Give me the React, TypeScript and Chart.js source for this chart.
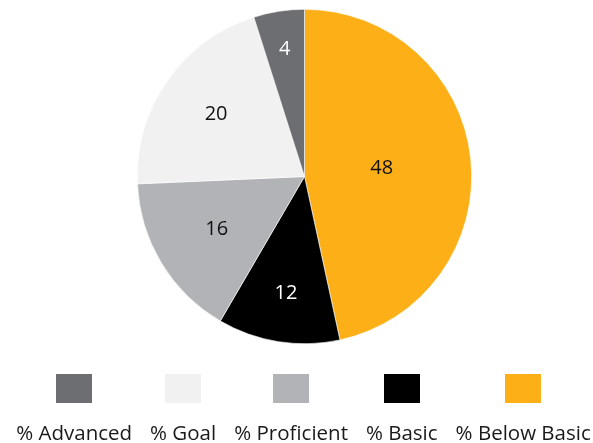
import React, { useEffect, useRef } from "react";
import { Chart, registerables } from "chart.js";

Chart.register(...registerables);

// Legend order
const categories = ["% Advanced", "% Goal", "% Proficient", "% Basic", "% Below Basic"];
// Slice sizes as drawn (percent)
const sliceValues = [4.9, 20.8, 15.9, 11.8, 46.6];
// Printed data labels
const labelValues = ["4", "20", "16", "12", "48"];
const colors = ["#6d6e71", "#f1f1f2", "#b1b3b6", "#000000", "#fcaf17"];
const labelColors = ["#ffffff", "#111111", "#111111", "#ffffff", "#111111"];
// radial position of each label (fraction of radius), legend order
const labelRadius = [0.767, 0.645, 0.614, 0.709, 0.465];

const FONT = "'Open Sans', 'Noto Sans', sans-serif";

export default function App() {
  const ref = useRef<HTMLCanvasElement | null>(null);

  useEffect(() => {
    if (!ref.current) return;
    // drawn clockwise from the top in reverse legend order
    const order = [4, 3, 2, 1, 0];
    const labelPlugin = {
      id: "sliceLabels",
      afterDatasetsDraw(chart: any) {
        const ctx = chart.ctx;
        const meta = chart.getDatasetMeta(0);
        ctx.save();
        ctx.font = `20px ${FONT}`;
        ctx.textAlign = "center";
        ctx.textBaseline = "middle";
        meta.data.forEach((arc: any, i: number) => {
          const k = order[i];
          const mid = (arc.startAngle + arc.endAngle) / 2;
          const r = arc.outerRadius * labelRadius[k];
          const x = arc.x + Math.cos(mid) * r;
          const y = arc.y + Math.sin(mid) * r;
          ctx.fillStyle = labelColors[k];
          ctx.fillText(labelValues[k], x, y);
        });
        ctx.restore();
      },
    };
    const legendPlugin = {
      id: "bottomLegend",
      afterDraw(chart: any) {
        const ctx = chart.ctx;
        ctx.save();
        ctx.font = `20.5px ${FONT}`;
        ctx.textBaseline = "alphabetic";
        ctx.textAlign = "left";
        const gap = 18;
        const widths = categories.map((c) => ctx.measureText(c).width);
        const total = widths.reduce((a, b) => a + b, 0) + gap * (categories.length - 1);
        let x = 303.5 - total / 2;
        categories.forEach((c, i) => {
          const cx = x + widths[i] / 2;
          ctx.fillStyle = colors[i];
          ctx.fillRect(Math.round(cx - 18), 374, 36, 29);
          ctx.fillStyle = "#1a1a1a";
          ctx.fillText(c, x, 440);
          x += widths[i] + gap;
        });
        ctx.restore();
      },
    };
    const chart = new Chart(ref.current, {
      type: "pie",
      data: {
        labels: order.map((k) => categories[k]),
        datasets: [
          {
            data: order.map((k) => sliceValues[k]),
            backgroundColor: order.map((k) => colors[k]),
            borderColor: "#ffffff",
            borderWidth: 0.6,
          },
        ],
      },
      options: {
        responsive: false,
        animation: false,
        layout: { padding: { left: 137, right: 121, top: 9, bottom: 99 } },
        plugins: {
          legend: { display: false },
          tooltip: { enabled: false },
        },
      },
      plugins: [labelPlugin, legendPlugin],
    });
    return () => chart.destroy();
  }, []);

  return (
    <div style={{ position: "fixed", left: 0, top: 0, width: 593, height: 443, background: "#fff" }}>
      <canvas ref={ref} width={593} height={443} style={{ width: 593, height: 443, display: "block" }} />
    </div>
  );
}
